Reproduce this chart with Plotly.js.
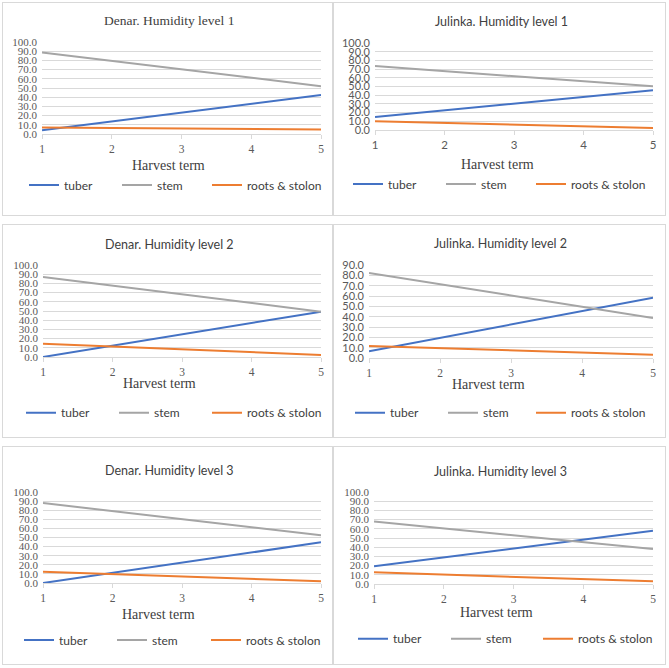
<!DOCTYPE html>
<html>
<head>
<meta charset="utf-8">
<script src="https://cdn.plot.ly/plotly-3.0.1.min.js"></script>
<style>
  html, body { margin: 0; padding: 0; background: #ffffff; }
  body { width: 669px; height: 668px; position: relative; overflow: hidden; }
  .panel { position: absolute; box-sizing: border-box; border: 1px solid #d9d9d9; background: #fff; }
</style>
</head>
<body>
<script>
// ---------- DATA ----------
const harvestTerms = [1, 2, 3, 4, 5];
const seriesNames = ["tuber", "stem", "roots & stolon"];
const panelTitles = [
  "Denar. Humidity level 1", "Julinka. Humidity level 1",
  "Denar. Humidity level 2", "Julinka. Humidity level 2",
  "Denar. Humidity level 3", "Julinka. Humidity level 3"
];
const xAxisTitle = "Harvest term";

// Denar, humidity level 1
const denarL1Tuber = [4.0, 13.6, 23.3, 32.9, 42.5];
const denarL1Stem  = [88.5, 79.4, 70.3, 61.1, 52.0];
const denarL1Roots = [7.0, 6.5, 6.0, 5.5, 5.0];
// Julinka, humidity level 1
const julinkaL1Tuber = [15.0, 22.7, 30.4, 38.0, 45.6];
const julinkaL1Stem  = [73.5, 67.7, 61.8, 56.0, 50.2];
const julinkaL1Roots = [10.0, 8.1, 6.2, 4.2, 2.3];
// Denar, humidity level 2
const denarL2Tuber = [0.0, 12.3, 24.7, 37.0, 49.3];
const denarL2Stem  = [87.0, 77.6, 68.2, 58.7, 49.3];
const denarL2Roots = [14.4, 11.4, 8.3, 5.3, 2.2];
// Julinka, humidity level 2
const julinkaL2Tuber = [6.5, 19.5, 32.5, 45.4, 58.4];
const julinkaL2Stem  = [82.3, 71.4, 60.5, 49.6, 38.7];
const julinkaL2Roots = [11.6, 9.5, 7.4, 5.3, 3.2];
// Denar, humidity level 3
const denarL3Tuber = [0.0, 11.2, 22.4, 33.5, 44.7];
const denarL3Stem  = [87.9, 79.0, 70.2, 61.3, 52.4];
const denarL3Roots = [12.5, 9.8, 7.2, 4.5, 1.8];
// Julinka, humidity level 3
const julinkaL3Tuber = [19.2, 28.9, 38.6, 48.3, 58.0];
const julinkaL3Stem  = [67.8, 60.3, 52.9, 45.4, 38.0];
const julinkaL3Roots = [12.7, 10.3, 7.8, 5.4, 2.9];

const yAxisMax = [100, 100, 100, 90, 100, 100];

// ---------- STYLE / LAYOUT ----------
const seriesColors = ["#4472C4", "#A5A5A5", "#ED7D31"];
const panelSeries = [
  [denarL1Tuber, denarL1Stem, denarL1Roots],
  [julinkaL1Tuber, julinkaL1Stem, julinkaL1Roots],
  [denarL2Tuber, denarL2Stem, denarL2Roots],
  [julinkaL2Tuber, julinkaL2Stem, julinkaL2Roots],
  [denarL3Tuber, denarL3Stem, denarL3Roots],
  [julinkaL3Tuber, julinkaL3Stem, julinkaL3Roots]
];
const SERIF = "Liberation Serif, Times New Roman, serif";
const SANS = "Lato, Liberation Sans, Arial, sans-serif";

// div box, plot-area (relative to div), text anchors and legend text starts for each panel
const geo = [
  {left:2,   top:2,   w:331, h:214, pl:39,   pr:318,   pt:38.7, pb:130.7, tx:166, ty:17,   hx:165, hy:162,   ly:182,   lt:[63,156,246], titleFont:SERIF, yFont:SERIF, xFont:SERIF},
  {left:333, top:2,   w:333, h:214, pl:41,   pr:319,   pt:39.7, pb:127.3, tx:167, ty:18,   hx:163, hy:162,   ly:181,   lt:[56,149,239], titleFont:SANS,  yFont:SANS,  xFont:SANS},
  {left:2,   top:224, w:331, h:214, pl:40,   pr:318,   pt:39.7, pb:132.3, tx:166, ty:19,   hx:156, hy:158.7, ly:187.7, lt:[60,153,246], titleFont:SANS,  yFont:SERIF, xFont:SERIF},
  {left:333, top:224, w:333, h:214, pl:35.3, pr:318.7, pt:39.7, pb:132.7, tx:167, ty:18.7, hx:155, hy:159,   ly:187.7, lt:[58,151,239], titleFont:SANS,  yFont:SANS,  xFont:SERIF},
  {left:2,   top:446, w:331, h:219, pl:40,   pr:318,   pt:44.7, pb:135.7, tx:166, ty:23.3, hx:155, hy:167,   ly:193,   lt:[58,151,245], titleFont:SANS,  yFont:SERIF, xFont:SERIF},
  {left:333, top:446, w:333, h:219, pl:40.3, pr:318.7, pt:44.7, pb:136.7, tx:167, ty:24,   hx:163, hy:165,   ly:191.7, lt:[61,154,246], titleFont:SANS,  yFont:SERIF, xFont:SERIF}
];
const legendIds = ["legend", "legend2", "legend3"];

geo.forEach((g, i) => {
  const div = document.createElement("div");
  div.className = "panel";
  div.style.left = g.left + "px";
  div.style.top = g.top + "px";
  div.style.width = g.w + "px";
  div.style.height = g.h + "px";
  document.body.appendChild(div);

  const W = g.w - 2, H = g.h - 2; // inside border
  const pw = g.pr - g.pl, ph = g.pb - g.pt;
  const px = x => (x - g.pl) / pw;
  const py = y => (g.pb - y) / ph;

  const traces = panelSeries[i].map((vals, k) => ({
    type: "scatter", mode: "lines",
    x: harvestTerms, y: vals, name: seriesNames[k],
    legend: legendIds[k],
    line: {color: seriesColors[k], width: 2},
    hoverinfo: "skip"
  }));

  const layout = {
    width: W, height: H,
    margin: {l: g.pl, r: W - g.pr, t: g.pt, b: H - g.pb, pad: 0},
    paper_bgcolor: "#ffffff", plot_bgcolor: "#ffffff",
    showlegend: true,
    xaxis: {
      range: [1, 5], tickvals: harvestTerms, ticktext: harvestTerms.map(String),
      showgrid: false, zeroline: false, showline: true, linecolor: "#d9d9d9", linewidth: 1,
      ticks: "outside", ticklen: 4, tickcolor: "#d9d9d9",
      tickfont: {family: g.xFont, size: 11.5, color: "#595959"},
      fixedrange: true
    },
    yaxis: {
      range: [0, yAxisMax[i]], dtick: 10, tick0: 0, tickformat: ".1f",
      showgrid: true, gridcolor: "#d9d9d9", gridwidth: 1, zeroline: false, showline: false,
      ticks: "", ticklabelstandoff: 4,
      tickfont: {family: g.yFont, size: 11, color: "#595959"},
      fixedrange: true
    },
    annotations: [
      {text: panelTitles[i], xref: "paper", yref: "paper", x: px(g.tx), y: py(g.ty),
       xanchor: "center", yanchor: "middle", showarrow: false,
       font: {family: g.titleFont, size: g.titleFont === SERIF ? 13.5 : 12.5, color: "#404040"}},
      {text: xAxisTitle, xref: "paper", yref: "paper", x: px(g.hx), y: py(g.hy),
       xanchor: "center", yanchor: "middle", showarrow: false,
       font: {family: SERIF, size: 14, color: "#404040"}}
    ]
  };
  legendIds.forEach((id, k) => {
    layout[id] = {
      orientation: "h", xref: "container", yref: "container",
      x: (g.lt[k] - 42) / W, y: 1 - g.ly / H, xanchor: "left", yanchor: "middle",
      font: {family: SANS, size: 12, color: "#404040"},
      bgcolor: "rgba(0,0,0,0)", borderwidth: 0
    };
  });
  Plotly.newPlot(div, traces, layout, {displayModeBar: false, staticPlot: true});
});
</script>
</body>
</html>
